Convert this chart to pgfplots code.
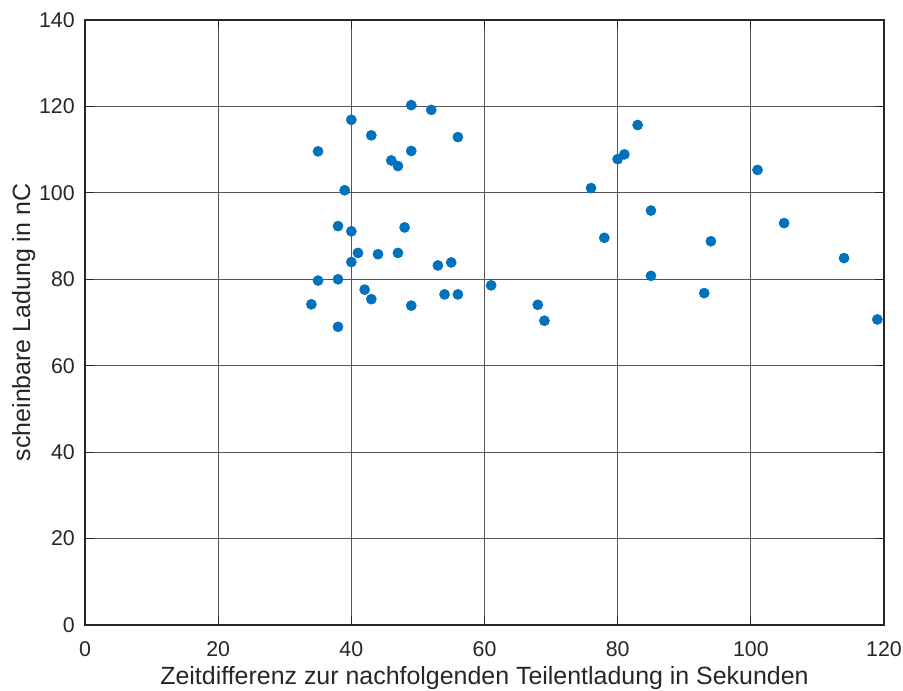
\documentclass[border=0pt]{standalone}
\usepackage{pgfplots}
\pgfplotsset{compat=1.18}
\usepackage{fontspec}
\setmainfont{Liberation Sans}
\definecolor{mblue}{RGB}{0,114,189}
\definecolor{gridc}{RGB}{85,85,85}
\definecolor{axc}{RGB}{38,38,38}
\begin{document}
\begin{tikzpicture}
\begin{axis}[
  scale only axis,
  width=599.25pt, height=453.75pt,
  xmin=0, xmax=120, ymin=0, ymax=140,
  xtick={0,20,...,120}, ytick={0,20,...,140},
  grid=major,
  major grid style={gridc, line width=0.7pt},
  axis line style={axc, line width=0.8pt},
  tick align=inside,
  major tick length=6.5pt,
  tick style={axc, line width=0.8pt},
  /pgf/number format/assume math mode=true,
  tick label style={font=\fontsize{16}{19}\selectfont, text=axc, inner sep=0pt},
  xticklabel style={anchor=base, yshift=-23.4pt},
  yticklabel style={anchor=east, xshift=-7.5pt},
  label style={font=\fontsize{18.7}{22}\selectfont, text=axc, inner sep=0pt},
  xlabel={Zeitdifferenz zur nachfolgenden Teilentladung in Sekunden},
  ylabel={scheinbare Ladung in nC},
  xlabel style={at={(axis description cs:0.5,-0.0985)}, anchor=base},
  ylabel style={at={(axis description cs:-0.06884,0.5)}, anchor=base, rotate=0},
]
\addplot[only marks, mark=*, mark size=3.8pt, mark options={fill=mblue, draw=mblue}] coordinates {
(34,74.2) (35,109.6) (35,79.7) (38,92.3) (38,80.0) (38,69.0) (39,100.6)
(40,116.9) (40,91.1) (40,84.0) (41,86.1) (42,77.6) (43,113.3) (43,75.4)
(44,85.8) (46,107.5) (47,106.2) (47,86.1) (48,92.0) (49,120.3) (49,109.7)
(49,73.9) (52,119.2) (53,83.2) (54,76.5) (55,83.9) (56,112.9) (56,76.5)
(61,78.6) (68,74.1) (69,70.4) (76,101.1) (78,89.6) (80,107.8) (81,108.9)
(83,115.7) (85,95.9) (85,80.8) (93,76.8) (94,88.8) (101,105.3) (105,93.0)
(114,84.9) (119,70.7)
};
\end{axis}
\pgfresetboundingbox
\path[use as bounding box] ([xshift=-63.75pt,yshift=-49.5pt]current axis.south west) rectangle ([xshift=14.25pt,yshift=15pt]current axis.north east);
\end{tikzpicture}
\end{document}
